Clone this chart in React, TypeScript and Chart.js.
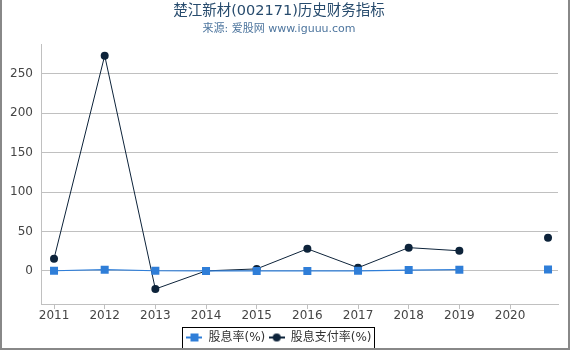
import React, { useEffect, useRef } from "react";
import { Chart, registerables } from "chart.js";

Chart.register(...registerables);

const chartTitle = "楚江新材(002171)历史财务指标";
const chartSubtitle = "来源: 爱股网 www.iguuu.com";
const seriesNames = ["股息率(%)", "股息支付率(%)"];
const xYears = [2011, 2012, 2013, 2014, 2015, 2016, 2017, 2018, 2019, 2020, 2020.75];
const tickYears = [2011, 2012, 2013, 2014, 2015, 2016, 2017, 2018, 2019, 2020];
const dividendYield = [0.2, 1.5, 0.2, 0, 0, 0, 0.1, 1, 1.5, null, 1.8];
const payoutRatio = [15.5, 273, -23, 0, 2.5, 28, 4, 29.5, 25.5, null, 42];
const yTicks = [0, 50, 100, 150, 200, 250];

const BLUE = "#2f7ed8";
const DARK = "#0d233a";
const FONT = "'DejaVu Sans', 'Noto Sans CJK SC', sans-serif";

function legendSymbol(color: string, kind: "rect" | "circle"): HTMLCanvasElement {
  const c = document.createElement("canvas");
  c.width = 16;
  c.height = 10;
  const ctx = c.getContext("2d")!;
  ctx.strokeStyle = color;
  ctx.lineWidth = 2;
  ctx.beginPath();
  ctx.moveTo(0, 5);
  ctx.lineTo(16, 5);
  ctx.stroke();
  ctx.fillStyle = color;
  if (kind === "rect") {
    ctx.fillRect(4, 1, 8, 8);
  } else {
    ctx.beginPath();
    ctx.arc(8, 5, 4, 0, Math.PI * 2);
    ctx.fill();
  }
  return c;
}

const legendBorder = {
  id: "legendBorder",
  afterDraw(chart: any) {
    const boxes = chart.legend?.legendHitBoxes;
    if (!boxes || !boxes.length) return;
    let l = Infinity, r = -Infinity, t = Infinity, b = -Infinity;
    for (const h of boxes) {
      l = Math.min(l, h.left);
      r = Math.max(r, h.left + h.width);
      t = Math.min(t, h.top);
      b = Math.max(b, h.top + h.height);
    }
    const ctx = chart.ctx;
    ctx.save();
    ctx.strokeStyle = "#000";
    ctx.lineWidth = 1;
    ctx.strokeRect(Math.round(l - 4) + 0.5, Math.round(t - 5) + 0.5, Math.round(r - l + 7), Math.round(b - t + 9));
    ctx.restore();
  },
};

export default function App() {
  const ref = useRef<HTMLCanvasElement | null>(null);

  useEffect(() => {
    if (!ref.current) return;
    const symbols = [legendSymbol(BLUE, "rect"), legendSymbol(DARK, "circle")];
    const chart = new Chart(ref.current, {
      type: "line",
      data: {
        datasets: [
          {
            label: seriesNames[0],
            data: xYears.map((x, i) => ({ x, y: dividendYield[i] })) as any,
            borderColor: BLUE,
            backgroundColor: BLUE,
            borderWidth: 1.2,
            pointStyle: "rect",
            pointRadius: 5.66,
            pointHoverRadius: 5.66,
            pointBorderWidth: 0,
            spanGaps: false,
          },
          {
            label: seriesNames[1],
            data: xYears.map((x, i) => ({ x, y: payoutRatio[i] })) as any,
            borderColor: DARK,
            backgroundColor: DARK,
            borderWidth: 1,
            pointStyle: "circle",
            pointRadius: 4,
            pointHoverRadius: 4,
            pointBorderWidth: 0,
            spanGaps: false,
          },
        ],
      },
      options: {
        animation: false,
        responsive: false,
        layout: { padding: { left: 0, right: 12, top: 0, bottom: -3.5 } },
        scales: {
          x: {
            type: "linear",
            min: 2010.743,
            max: 2020.947,
            afterBuildTicks: (axis: any) => {
              axis.ticks = tickYears.map((v) => ({ value: v }));
            },
            afterFit: (scale: any) => {
              scale.height = 24;
            },
            grid: { drawOnChartArea: false, drawTicks: true, tickLength: 5, color: "#c0c0c0" },
            border: { display: true, color: "#c0c0c0" },
            ticks: {
              color: "#444",
              font: { family: FONT, size: 12 },
              padding: 0,
              maxRotation: 0,
              autoSkip: false,
              callback: (v: any) => String(v),
            },
          },
          y: {
            type: "linear",
            min: -42,
            max: 287,
            afterBuildTicks: (axis: any) => {
              axis.ticks = yTicks.map((v) => ({ value: v }));
            },
            afterFit: (scale: any) => {
              scale.width = 41;
            },
            grid: { color: "#c0c0c0", drawTicks: false },
            border: { display: true, color: "#c0c0c0" },
            ticks: {
              color: "#444",
              font: { family: FONT, size: 12 },
              padding: 8,
              callback: (v: any) => String(v),
            },
          },
        },
        plugins: {
          title: {
            display: true,
            text: chartTitle,
            color: "#274b6d",
            font: { family: FONT, size: 14.5, weight: "normal" },
            padding: { top: 3, bottom: 0 },
          },
          subtitle: {
            display: true,
            text: chartSubtitle,
            color: "#4d759e",
            font: { family: FONT, size: 11, weight: "normal" },
            padding: { top: 2.5, bottom: 8.5 },
          },
          legend: {
            display: true,
            position: "bottom",
            labels: {
              color: "#333",
              font: { family: FONT, size: 12 },
              usePointStyle: true,
              pointStyleWidth: 16,
              boxHeight: 10,
              padding: 3.5,
              generateLabels: (ch: any) =>
                ch.data.datasets.map((ds: any, i: number) => ({
                  text: ds.label,
                  pointStyle: symbols[i],
                  fillStyle: ds.backgroundColor,
                  strokeStyle: ds.borderColor,
                  lineWidth: 0,
                  hidden: false,
                  datasetIndex: i,
                  fontColor: "#333",
                })),
            },
          },
          tooltip: { enabled: false },
        },
      },
      plugins: [legendBorder],
    });
    return () => chart.destroy();
  }, []);

  return (
    <div
      style={{
        position: "fixed",
        left: 0,
        top: 0,
        width: 570,
        height: 350,
        background: "#fff",
        boxSizing: "border-box",
      }}
    >
      <canvas ref={ref} width={570} height={350} style={{ display: "block" }} />
      <div
        style={{
          position: "absolute",
          left: 0,
          top: 0,
          width: 570,
          height: 350,
          boxSizing: "border-box",
          borderLeft: "2px solid #888",
          borderRight: "2px solid #888",
          borderBottom: "2px solid #888",
          pointerEvents: "none",
        }}
      />
    </div>
  );
}
